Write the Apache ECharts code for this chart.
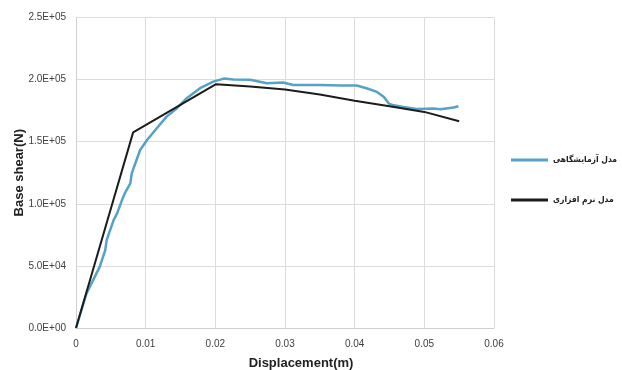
<!DOCTYPE html>
<html><head><meta charset="utf-8">
<script src="https://cdn.jsdelivr.net/npm/echarts@6/dist/echarts.min.js"></script>
<style>html,body{margin:0;padding:0;background:#fff}#c{width:622px;height:370px}</style>
</head><body><div id="c"></div>
<script>
var seriesNames = ['مدل آزمایشگاهی', 'مدل نرم افزاری'];
var expX = [0, 0.0015, 0.0034, 0.0042, 0.0044, 0.0054, 0.0059, 0.0066, 0.0070, 0.0078, 0.0080, 0.0092, 0.0102, 0.0116, 0.0130, 0.0145, 0.0159, 0.0178, 0.0197, 0.0212, 0.0226, 0.0250, 0.0274, 0.0297, 0.0312, 0.0350, 0.0380, 0.0403, 0.0418, 0.0432, 0.0442, 0.0449, 0.0456, 0.0470, 0.0489, 0.0513, 0.0523, 0.0542, 0.0549];
var expY = [0, 27700, 49200, 62700, 70700, 86900, 92300, 103000, 108400, 116500, 124500, 143300, 151400, 160800, 170200, 177000, 185000, 193100, 198400, 200800, 200100, 199800, 197100, 197600, 195700, 195700, 195300, 195200, 192800, 190100, 186000, 180700, 179300, 178000, 176400, 176700, 176100, 177500, 178500];
var simX = [0, 0.0082, 0.0201, 0.0250, 0.0300, 0.0350, 0.0400, 0.0450, 0.0500, 0.0550];
var simY = [0, 157500, 196300, 194500, 192000, 188000, 183000, 178500, 174000, 166500];
var xTicks = [0, 0.06, 0.01];
var yTicks = [0, 250000, 50000];

function pair(xs, ys){ return xs.map(function(x,i){return [x, ys[i]];}); }
function expFmt(v){
  if (v === 0) return '0.0E+00';
  var e = Math.floor(Math.log10(v));
  var m = v / Math.pow(10, e);
  return m.toFixed(1) + 'E+' + (e < 10 ? '0' + e : e);
}
var font = '"Liberation Sans Narrow", "Liberation Sans", Arial, sans-serif';
var chart = echarts.init(document.getElementById('c'), null, {renderer:'canvas'});
chart.setOption({
  animation: false,
  grid: {left: 76, right: 128, top: 17.5, bottom: 42, outerBoundsMode: 'none', containLabel: false},
  legend: {
    orient: 'vertical', left: 506, top: 148, itemGap: 26,
    itemWidth: 37, itemHeight: 3, icon: 'rect',
    data: seriesNames,
    textStyle: {fontSize: 8.5, fontWeight: 'bold', color: '#222', lineHeight: 14, fontFamily: '"DejaVu Sans Condensed", "DejaVu Sans", sans-serif'}
  },
  xAxis: {
    type: 'value', min: xTicks[0], max: xTicks[1], interval: xTicks[2],
    name: 'Displacement(m)', nameLocation: 'middle', nameGap: 29, nameMoveOverlap: false,
    nameTextStyle: {fontSize: 13, fontWeight: 'bold', color: '#222', fontFamily: '"Liberation Sans", Arial, sans-serif', padding: [0,0,0,32]},
    axisLine: {lineStyle: {color: '#cfcfcf'}},
    axisTick: {show: false},
    axisLabel: {fontSize: 10, color: '#404040', fontFamily: font, margin: 11,
      formatter: function(v){ return v === 0 ? '0' : v.toFixed(2); }},
    splitLine: {show: true, lineStyle: {color: '#dcdcdc'}}
  },
  yAxis: {
    type: 'value', min: yTicks[0], max: yTicks[1], interval: yTicks[2],
    name: 'Base shear(N)', nameLocation: 'middle', nameGap: 50, nameMoveOverlap: false,
    nameTextStyle: {fontSize: 13, fontWeight: 'bold', color: '#222', fontFamily: '"Liberation Sans", Arial, sans-serif'},
    axisLine: {show: true, lineStyle: {color: '#cfcfcf'}},
    axisTick: {show: false},
    axisLabel: {fontSize: 10, color: '#404040', fontFamily: font, margin: 10, formatter: expFmt},
    splitLine: {show: true, lineStyle: {color: '#dcdcdc'}}
  },
  series: [
    {name: seriesNames[0], type: 'line', data: pair(expX, expY), showSymbol: false, symbol: 'none',
     lineStyle: {color: '#55a2c6', width: 2.5}, itemStyle: {color: '#55a2c6'}},
    {name: seriesNames[1], type: 'line', data: pair(simX, simY), showSymbol: false, symbol: 'none',
     lineStyle: {color: '#1c1c1c', width: 2}, itemStyle: {color: '#1c1c1c'}}
  ]
});
</script></body></html>
